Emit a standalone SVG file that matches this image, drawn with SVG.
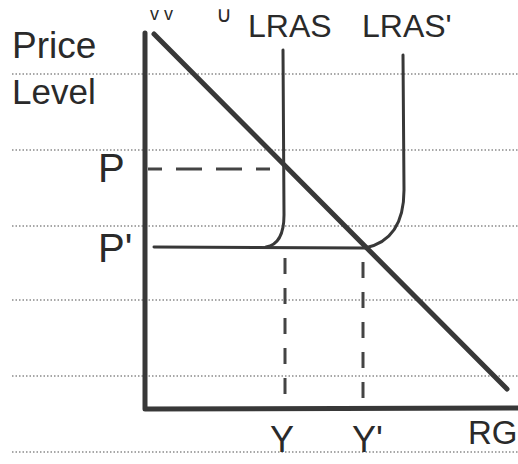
<svg xmlns="http://www.w3.org/2000/svg" width="518" height="464" viewBox="0 0 518 464">
<style>
.rule{stroke:#8a8a8a;stroke-width:1.5;stroke-dasharray:1.5 2;fill:none}
.ink{stroke:#383838;fill:none;stroke-linecap:round;stroke-linejoin:round}
.dash{stroke:#444;stroke-width:3;fill:none;stroke-dasharray:16 14}
text{font-family:"Liberation Sans","DejaVu Sans",sans-serif;fill:#2a2a2a}
</style>
<rect width="518" height="464" fill="#fff"/>
<g id="ruled-lines">
<line class="rule" x1="12" y1="74" x2="518" y2="74"/>
<line class="rule" x1="12" y1="150" x2="518" y2="150"/>
<line class="rule" x1="12" y1="226" x2="518" y2="226"/>
<line class="rule" x1="12" y1="300" x2="518" y2="300"/>
<line class="rule" x1="12" y1="376" x2="518" y2="376"/>
<line class="rule" x1="12" y1="452" x2="518" y2="452"/>
</g>
<g id="connectors">
<path id="axes" class="ink" stroke-width="5" d="M145,33 L145,409 L518,408"/>
<line id="AD" class="ink" stroke-width="5" x1="154" y1="34" x2="507" y2="389"/>
<path id="LRAS" class="ink" stroke-width="3" d="M283,50 L284,215 Q284,244 266,247"/>
<path id="LRAS2" class="ink" stroke-width="3" d="M154,247 L365,248 Q404,240 404,190 L403,55"/>
<line id="dash-P" class="dash" x1="148" y1="169" x2="285" y2="169" style="stroke-dasharray:14 14 26 14 26 14"/>
<line id="dash-Y" class="dash" x1="285" y1="258" x2="285" y2="406"/>
<line id="dash-Y1" class="dash" x1="363" y1="262" x2="363" y2="406"/>
</g>
<g id="labels">
<text x="12" y="58" font-size="37">Price</text>
<text x="12" y="104" font-size="35">Level</text>
<text x="150" y="20" font-size="18">v v</text>
<text x="216" y="22" font-size="22">∪</text>
<text x="248" y="37" font-size="32">LRAS</text>
<text x="362" y="37" font-size="32">LRAS'</text>
<text x="98" y="182" font-size="40">P</text>
<text x="98" y="262" font-size="40">P'</text>
<text x="270" y="452" font-size="36">Y</text>
<text x="352" y="452" font-size="36">Y'</text>
<text x="468" y="444" font-size="33">RG</text>
</g>
</svg>
